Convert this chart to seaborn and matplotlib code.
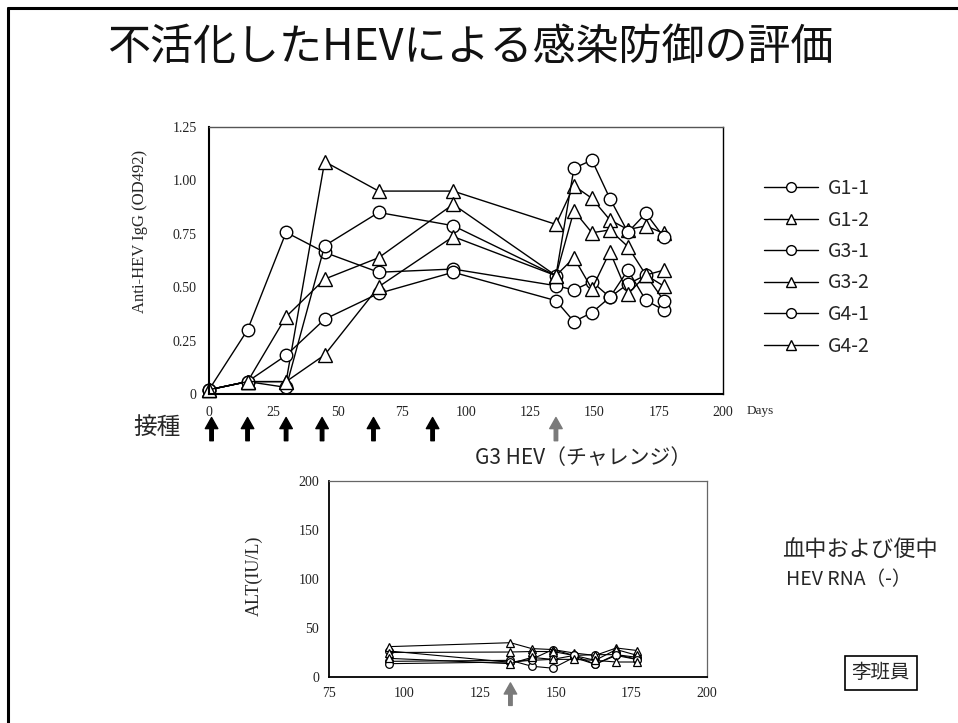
import matplotlib
matplotlib.use("Agg")
import matplotlib.pyplot as plt
from matplotlib.lines import Line2D
import seaborn as sns
import pandas as pd

# ---------------- data ----------------
days_igg = [0, 15, 30, 45, 66, 95, 135, 142, 149, 156, 163, 170, 177]
g1_1 = [0.02, 0.30, 0.757, 0.663, 0.57, 0.585, 0.507, 0.487, 0.526, 0.453, 0.58, 0.438, 0.393]
g1_2 = [0.02, 0.058, 0.058, 1.088, 0.95, 0.95, 0.794, 0.975, 0.916, 0.815, 0.77, 0.787, 0.752]
g3_1 = [0.02, 0.058, 0.031, 0.694, 0.85, 0.788, 0.554, 1.057, 1.095, 0.915, 0.757, 0.846, 0.734]
g3_2 = [0.02, 0.058, 0.362, 0.538, 0.638, 0.888, 0.554, 0.858, 0.755, 0.768, 0.69, 0.557, 0.505]
g4_1 = [0.02, 0.058, 0.181, 0.35, 0.471, 0.57, 0.437, 0.339, 0.381, 0.453, 0.515, 0.557, 0.437]
g4_2 = [0.02, 0.058, 0.058, 0.183, 0.502, 0.737, 0.554, 0.638, 0.492, 0.666, 0.468, 0.557, 0.58]

days_alt = [95, 135, 142, 149, 156, 163, 170, 177]
alt_g1_1 = [26.5, 15, 18, 28, 22, 22.8, 22.8, 20]
alt_g1_2 = [31, 35, 29, 28, 24.5, 22, 29.6, 27]
alt_g3_1 = [16, 17, 11, 9, 20, 13, 23, 18]
alt_g3_2 = [25, 25.5, 26, 26, 22, 17, 28, 22]
alt_g4_1 = [13.6, 15.3, 17, 18, 22, 13, 22, 17.7]
alt_g4_2 = [19, 13.6, 20, 18, 18, 17, 15.3, 15.3]

series_names = ["G1-1", "G1-2", "G3-1", "G3-2", "G4-1", "G4-2"]
series_markers = ["o", "^", "o", "^", "o", "^"]
igg_values = [g1_1, g1_2, g3_1, g3_2, g4_1, g4_2]
alt_values = [alt_g1_1, alt_g1_2, alt_g3_1, alt_g3_2, alt_g4_1, alt_g4_2]

igg_xticks = [0, 25, 50, 75, 100, 125, 150, 175, 200]
igg_yticks = [0, 0.25, 0.50, 0.75, 1.00, 1.25]
igg_yticklabels = ["0", "0.25", "0.50", "0.75", "1.00", "1.25"]
alt_xticks = [75, 100, 125, 150, 175, 200]
alt_yticks = [0, 50, 100, 150, 200]

vaccination_days = [1, 15, 30, 44, 64, 87]
challenge_day = 135

# ---------------- style ----------------
sns.set_theme(style="white")
plt.rcParams["font.family"] = ["Noto Sans CJK JP", "DejaVu Sans"]
SERIF = ["Liberation Serif", "DejaVu Serif"]
W, H = 958, 723
fig = plt.figure(figsize=(W / 100, H / 100), dpi=100)


def fx(px):
    return px / W


def fy(py):
    return 1 - py / H


# slide frame (left and top lines)
fig.add_artist(Line2D([fx(8), fx(8)], [0, fy(8)], color="black", lw=2.2))
fig.add_artist(Line2D([fx(8), 1], [fy(8), fy(8)], color="black", lw=2.2))

# ---------------- top chart ----------------
ax1 = fig.add_axes([fx(209), fy(394), fx(723) - fx(209), fy(127) - fy(394)])
for name, mk, vals in zip(series_names, series_markers, igg_values):
    df = pd.DataFrame({"day": days_igg, "val": vals})
    sns.lineplot(data=df, x="day", y="val", ax=ax1, color="black", lw=1.0,
                 marker=mk, markersize=9 if mk == "o" else 9.5,
                 markerfacecolor="white", markeredgecolor="black",
                 markeredgewidth=1.0, clip_on=False, legend=False)
ax1.set_xlim(0, 200)
ax1.set_ylim(0, 1.25)
ax1.set_xticks(igg_xticks)
ax1.set_xticklabels([str(t) for t in igg_xticks], family=SERIF, fontsize=10)
ax1.set_yticks(igg_yticks)
ax1.set_yticklabels(igg_yticklabels, family=SERIF, fontsize=10)
ax1.tick_params(axis="both", direction="out", length=4, width=1, color="black",
                pad=5, labelcolor="#222")
ax1.set_xlabel("")
ax1.set_ylabel("Anti-HEV IgG (OD492)", family=SERIF, fontsize=12)
ax1.yaxis.set_label_coords((148 - 209) / 514, (394 - 231) / 267)
for side, sp in ax1.spines.items():
    sp.set_visible(True)
    sp.set_color("black" if side != "top" else "#555")
    sp.set_linewidth(1.5 if side in ("left", "bottom") else 1.0)
ax1.text(1.045, -0.065, "Days", transform=ax1.transAxes, family=SERIF,
         fontsize=9.5, ha="left", va="center")

# arrows for vaccination and challenge
trans = ax1.get_xaxis_transform()
for d in vaccination_days:
    ax1.annotate("", xy=(d, -0.088), xytext=(d, -0.175), xycoords=trans,
                 textcoords=trans, annotation_clip=False,
                 arrowprops=dict(facecolor="black", edgecolor="black",
                                 width=2.5, headwidth=9, headlength=8, shrink=0))
ax1.annotate("", xy=(challenge_day, -0.088), xytext=(challenge_day, -0.175),
             xycoords=trans, textcoords=trans, annotation_clip=False,
             arrowprops=dict(facecolor="#7a7a7a", edgecolor="#7a7a7a",
                             width=2.5, headwidth=9, headlength=8, shrink=0))

# legend
handles = [Line2D([0], [0], color="black", lw=1.0, marker=mk, markersize=7,
                  markerfacecolor="white", markeredgecolor="black")
           for mk in series_markers]
fig.legend(handles, series_names, loc="upper left",
           bbox_to_anchor=(fx(764), fy(178)), frameon=False, fontsize=14,
           handlelength=2.8, handletextpad=0.5, labelspacing=0.54,
           borderpad=0, borderaxespad=0)

# ---------------- bottom chart ----------------
ax2 = fig.add_axes([fx(329), fy(677), fx(707) - fx(329), fy(481) - fy(677)])
for name, mk, vals in zip(series_names, series_markers, alt_values):
    df = pd.DataFrame({"day": days_alt, "val": vals})
    sns.lineplot(data=df, x="day", y="val", ax=ax2, color="black", lw=0.8,
                 marker=mk, markersize=5.5,
                 markerfacecolor="white", markeredgecolor="black",
                 markeredgewidth=0.9, clip_on=False, legend=False)
ax2.set_xlim(75, 200)
ax2.set_ylim(0, 200)
ax2.set_xticks(alt_xticks)
ax2.set_xticklabels([str(t) for t in alt_xticks], family=SERIF, fontsize=10)
ax2.set_yticks(alt_yticks)
ax2.set_yticklabels([str(t) for t in alt_yticks], family=SERIF, fontsize=10)
ax2.tick_params(axis="both", direction="out", length=3, width=1, color="black",
                pad=4, labelcolor="#222")
ax2.set_xlabel("")
ax2.set_ylabel("ALT(IU/L)", family=SERIF, fontsize=13)
ax2.yaxis.set_label_coords((263 - 329) / 378, (677 - 576) / 196)
for side, sp in ax2.spines.items():
    sp.set_visible(True)
    sp.set_color("black" if side in ("left", "bottom") else "#666")
    sp.set_linewidth(1.3 if side in ("left", "bottom") else 0.9)

trans2 = ax2.get_xaxis_transform()
ax2.annotate("", xy=(challenge_day, -0.03), xytext=(challenge_day, -0.145),
             xycoords=trans2, textcoords=trans2, annotation_clip=False,
             arrowprops=dict(facecolor="#7a7a7a", edgecolor="#7a7a7a",
                             width=2.5, headwidth=9, headlength=8, shrink=0))

# ---------------- texts ----------------
fig.text(fx(470), fy(48), "不活化したHEVによる感染防御の評価", fontsize=31,
         ha="center", va="center", color="#111")
fig.text(fx(157), fy(427), "接種", fontsize=17, ha="center", va="center")
fig.text(fx(583), fy(458), "G3 HEV（チャレンジ）", fontsize=15, ha="center",
         va="center")
fig.text(fx(860), fy(550), "血中および便中", fontsize=16, ha="center",
         va="center")
fig.text(fx(849), fy(580), "HEV RNA（-）", fontsize=14, ha="center",
         va="center")
fig.text(fx(881), fy(673), "李班員", fontsize=14, ha="center", va="center",
         bbox=dict(boxstyle="square,pad=0.35", facecolor="white",
                   edgecolor="black", lw=1.2))

fig.savefig("out.png", dpi=100)
